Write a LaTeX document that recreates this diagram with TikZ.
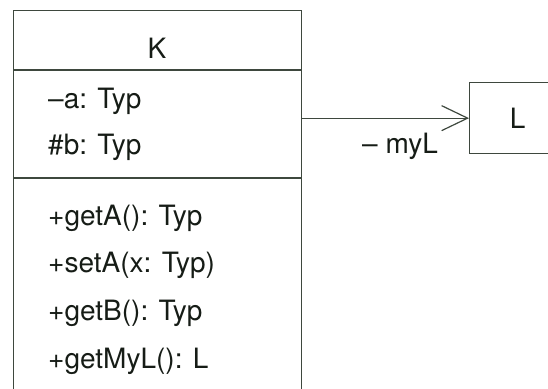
\documentclass[tikz,border=0pt]{standalone}
\usepackage{fontspec}
\setmainfont{TeX Gyre Heros}
\usetikzlibrary{arrows.meta}
\definecolor{lc}{RGB}{62,72,62}
\definecolor{tc}{RGB}{22,28,22}
\begin{document}
\begin{tikzpicture}[x=1pt,y=-1pt,
  boxline/.style={draw=lc, line width=1.3pt},
  txt/.style={text=tc, font=\fontsize{28}{34}\selectfont, inner sep=0pt},
  assoc/.style={draw=lc, line width=1.2pt, -{Straight Barb[length=26pt,width=25pt,line width=1.2pt]}}]
\useasboundingbox (0,0) rectangle (548,388);
\clip (0,0) rectangle (548,388);
% class K
\node[boxline, minimum width=288pt, minimum height=420pt, anchor=north west, inner sep=0pt] (K) at (13,10) {};
\draw[boxline] ([yshift=-60pt]K.north west) -- ([yshift=-60pt]K.north east);
\draw[boxline] ([yshift=-168pt]K.north west) -- ([yshift=-168pt]K.north east);
\node[txt, anchor=base] (kname) at (157,58) {K};
\node[txt, anchor=base west] (a1) at (48,108) {–a: Typ};
\node[txt, anchor=base west] (a2) at (48,154) {\#b: Typ};
\node[txt, anchor=base west] (m1) at (48,225) {+getA(): Typ};
\node[txt, anchor=base west] (m2) at (48,272) {+setA(x: Typ)};
\node[txt, anchor=base west] (m3) at (48,320) {+getB(): Typ};
\node[txt, anchor=base west] (m4) at (48,368) {+getMyL(): L};
% class L
\node[boxline, txt, minimum width=96pt, minimum height=71pt, anchor=north west] (L) at (469,82) {L};
% association
\draw[assoc] (L.west -| K.east) -- (L.west);
\node[txt, anchor=base west] (role) at (362,153) {– myL};
\end{tikzpicture}
\end{document}
